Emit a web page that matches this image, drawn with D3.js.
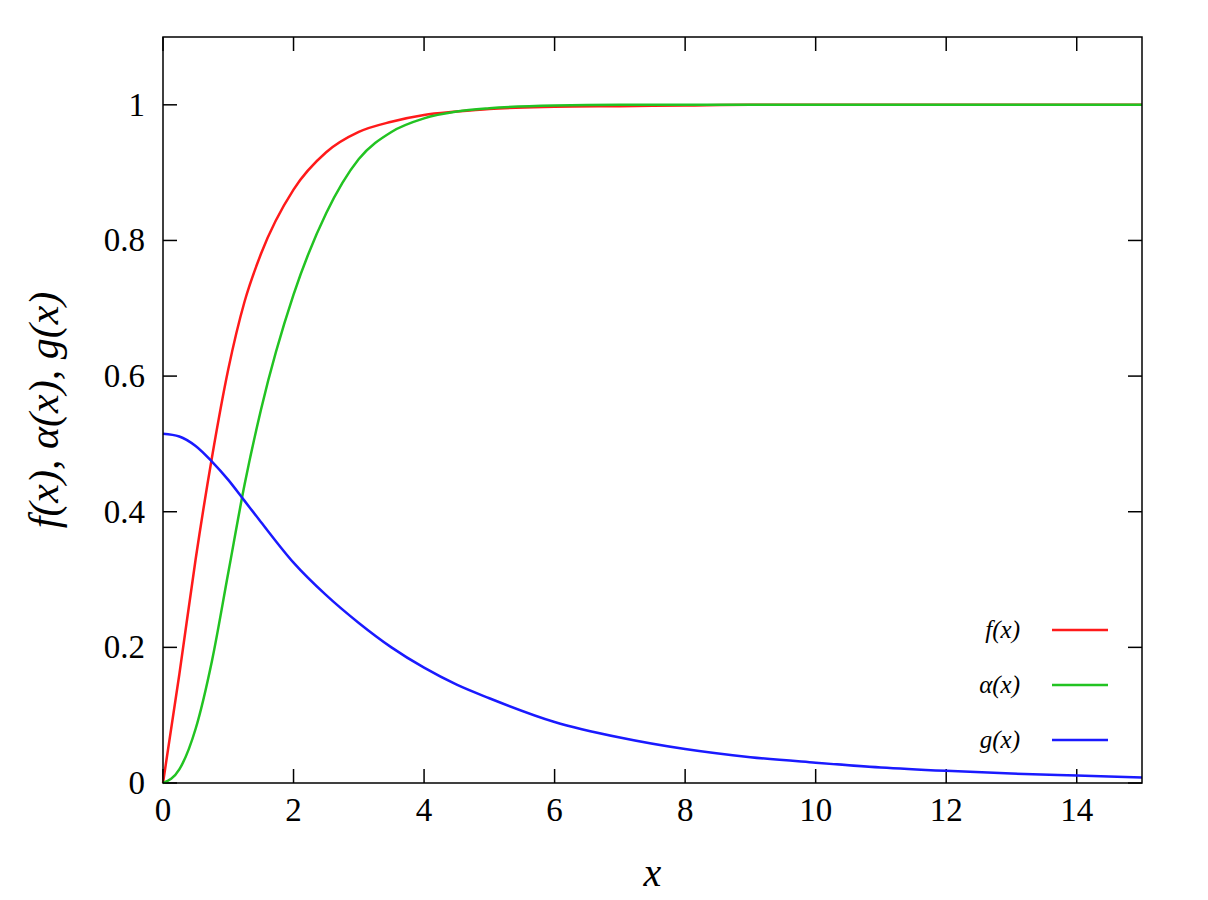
<!DOCTYPE html>
<html><head><meta charset="utf-8">
<script src="https://cdn.jsdelivr.net/npm/d3@7"></script>
<style>body{margin:0;background:#fff}text{font-family:"Liberation Serif","DejaVu Serif",serif}</style>
</head><body><div id="app"></div>
<script>
const xs = [0,0.25,0.5,0.75,1,1.25,1.5,2,2.5,3,3.5,4,4.5,5,6,7,8,9,10,11,12,13,14,15];
const fVals = [0,0.16,0.33,0.48,0.61,0.71,0.78,0.875,0.93,0.96,0.975,0.985,0.99,0.994,0.997,0.998,0.999,1,1,1,1,1,1,1];
const aVals = [0,0.02,0.08,0.18,0.31,0.44,0.55,0.72,0.84,0.92,0.96,0.98,0.99,0.995,0.999,1,1,1,1,1,1,1,1,1];
const gVals = [0.515,0.511,0.497,0.474,0.447,0.416,0.385,0.325,0.277,0.236,0.2,0.17,0.145,0.125,0.09,0.067,0.05,0.038,0.03,0.023,0.018,0.014,0.011,0.008];
const xTicks = [0,2,4,6,8,10,12,14];
const yTicks = [0,0.2,0.4,0.6,0.8,1];
const series = [
  {name:'f', label:'f(x)', color:'#ff1a1a', values:fVals},
  {name:'a', label:'α(x)', color:'#22c322', values:aVals},
  {name:'g', label:'g(x)', color:'#1a1aff', values:gVals}
];

const W = 1208, H = 900, L = 163, R = 1142, T = 37, B = 783;
const svg = d3.select('#app').append('svg').attr('width', W).attr('height', H);
const x = d3.scaleLinear().domain([0,15]).range([L,R]);
const y = d3.scaleLinear().domain([0,1.1]).range([B,T]);

// inward ticks on all four sides
const tl = 14;
const g = svg.append('g').attr('stroke','#000').attr('stroke-width',1.5);
xTicks.forEach(t => {
  g.append('line').attr('x1',x(t)).attr('x2',x(t)).attr('y1',B).attr('y2',B-tl);
  g.append('line').attr('x1',x(t)).attr('x2',x(t)).attr('y1',T).attr('y2',T+tl);
});
yTicks.forEach(t => {
  g.append('line').attr('x1',L).attr('x2',L+tl).attr('y1',y(t)).attr('y2',y(t));
  g.append('line').attr('x1',R).attr('x2',R-tl).attr('y1',y(t)).attr('y2',y(t));
});
svg.append('g').selectAll('text').data(xTicks).join('text')
  .attr('x', d => x(d)).attr('y', B+38).attr('text-anchor','middle')
  .attr('font-size',33).text(d => d);
svg.append('g').selectAll('text').data(yTicks).join('text')
  .attr('x', L-18).attr('y', d => y(d)+11).attr('text-anchor','end')
  .attr('font-size',33).text(d => d);

const line = d3.line().x((d,i) => x(xs[i])).y(d => y(d)).curve(d3.curveMonotoneX);
series.forEach(s => {
  svg.append('path').attr('d', line(s.values)).attr('fill','none')
    .attr('stroke', s.color).attr('stroke-width',2.5);
});

svg.append('rect').attr('x',L).attr('y',T).attr('width',R-L).attr('height',B-T)
  .attr('fill','none').attr('stroke','#000').attr('stroke-width',1.5);

// legend
series.forEach((s,i) => {
  const ly = 630 + i*55;
  svg.append('text').attr('x',1020).attr('y',ly+8).attr('text-anchor','end')
    .attr('font-size',25).attr('font-style','italic').text(s.label);
  svg.append('line').attr('x1',1052).attr('x2',1108).attr('y1',ly).attr('y2',ly)
    .attr('stroke',s.color).attr('stroke-width',2.5);
});

svg.append('text').attr('x',(L+R)/2).attr('y',886).attr('text-anchor','middle')
  .attr('font-size',40).attr('font-style','italic').text('x');
svg.append('text').attr('transform',`translate(58,${(T+B)/2}) rotate(-90)`)
  .attr('text-anchor','middle').attr('font-size',42).attr('font-style','italic')
  .text('f(x), α(x), g(x)');
</script></body></html>
